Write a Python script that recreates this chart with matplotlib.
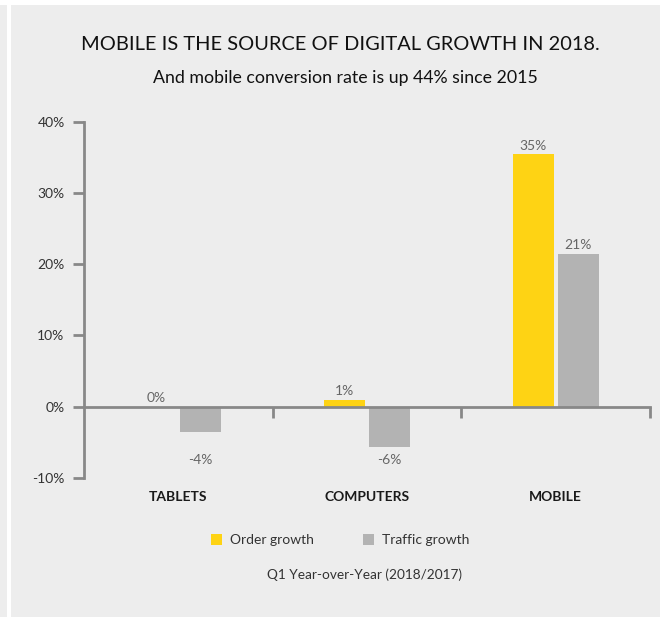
import matplotlib.pyplot as plt
from matplotlib.patches import Rectangle
import numpy as np

# data
categories = ['TABLETS', 'COMPUTERS', 'MOBILE']
order_growth = [0.0, 0.9, 35.4]
traffic_growth = [-3.6, -5.7, 21.4]
order_labels = ['0%', '1%', '35%']
traffic_labels = ['-4%', '-6%', '21%']
y_ticks = [-10, 0, 10, 20, 30, 40]

yellow = '#FED314'
grey = '#B3B3B3'
bg = '#EDEDED'
axis_col = '#888888'

plt.rcParams['font.family'] = ['Lato', 'DejaVu Sans']

fig = plt.figure(figsize=(6.6, 6.17), dpi=100, facecolor=bg)
# white frame strips as in the reference
fig.patches.append(Rectangle((0, 1 - 5 / 617), 1, 5 / 617, transform=fig.transFigure,
                             facecolor='white', edgecolor='none', zorder=0))
fig.patches.append(Rectangle((7 / 660, 0), 4 / 660, 1, transform=fig.transFigure,
                             facecolor='white', edgecolor='none', zorder=0))

ax = fig.add_axes([84 / 660, (617 - 478) / 617, (650 - 84) / 660, (478 - 121.7) / 617])
ax.set_facecolor(bg)

x = np.arange(len(categories))
w = 0.217
off = 0.119
ax.bar(x - off, order_growth, w, color=yellow, label='Order growth', zorder=2)
ax.bar(x + off, traffic_growth, w, color=grey, label='Traffic growth', zorder=2)

for i in range(len(categories)):
    ax.text(x[i] - off, max(order_growth[i], 0) + 0.4, order_labels[i], ha='center', va='bottom',
            fontsize=10, color='#666666')
    if traffic_growth[i] < 0:
        ax.text(x[i] + off, -7.5, traffic_labels[i], ha='center', va='center',
                fontsize=10, color='#666666')
    else:
        ax.text(x[i] + off, traffic_growth[i] + 0.4, traffic_labels[i], ha='center', va='bottom',
                fontsize=10, color='#666666')
    ax.text(x[i], -12.7, categories[i], ha='center', va='center', fontsize=10,
            fontweight='bold', color='#1a1a1a')

ax.set_xlim(-0.5, 2.5)
ax.set_ylim(-10, 40)
ax.set_yticks(y_ticks)
ax.set_yticklabels(['{}%'.format(v) for v in y_ticks], fontsize=10, color='#333333')
ax.set_xticks([0.5, 1.5, 2.5])
ax.set_xticklabels([])

for s in ['top', 'right']:
    ax.spines[s].set_visible(False)
ax.spines['bottom'].set_position(('data', 0))
for s in ['left', 'bottom']:
    ax.spines[s].set_color(axis_col)
    ax.spines[s].set_linewidth(2)
    ax.spines[s].set_zorder(3)
ax.tick_params(axis='both', color=axis_col, width=2, length=8)
ax.tick_params(axis='y', pad=6)

leg = ax.legend(loc='center', bbox_to_anchor=(340 / 660, 1 - 540 / 617), bbox_transform=fig.transFigure,
                ncol=2, frameon=False, fontsize=10, handlelength=0.8, handleheight=0.8,
                columnspacing=3.5, handletextpad=0.6)
for t in leg.get_texts():
    t.set_color('#333333')

fig.text(340.5 / 660, 1 - 45 / 617, 'MOBILE IS THE SOURCE OF DIGITAL GROWTH IN 2018.', ha='center',
         va='center', fontsize=14.4, color='#111111')
fig.text(345 / 660, 1 - 78 / 617, 'And mobile conversion rate is up 44% since 2015', ha='center',
         va='center', fontsize=12.8, color='#111111')
fig.text(365 / 660, 1 - 575 / 617, 'Q1 Year-over-Year (2018/2017)', ha='center', va='center',
         fontsize=9.8, color='#333333')

fig.savefig('out.png', dpi=100, facecolor=bg)
